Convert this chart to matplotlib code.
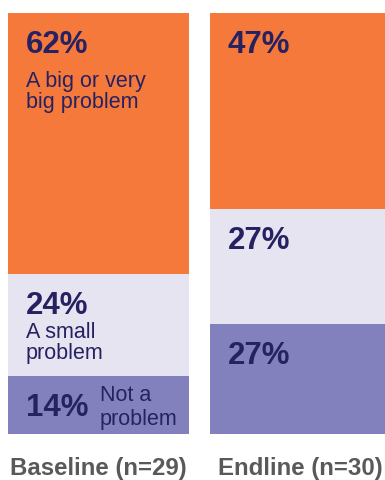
import matplotlib
matplotlib.use("Agg")
import matplotlib.pyplot as plt

plt.rcParams['font.family'] = ['Liberation Sans', 'DejaVu Sans']

categories = ["Baseline (n=29)", "Endline (n=30)"]
# bar shares as drawn (percent of each bar)
not_problem = [13.8, 26.1]
small_problem = [24.2, 27.3]
big_problem = [62.0, 46.6]
# labels as printed on the bars
not_problem_labels = ["14%", "27%"]
small_problem_labels = ["24%", "27%"]
big_problem_labels = ["62%", "47%"]
segment_labels = ["Not a\nproblem", "A small\nproblem", "A big or very\nbig problem"]

colors = ["#8381BD", "#E7E4F2", "#F4793B"]
text_color = "#262262"
label_color = "#58595B"

W, H = 385, 480
fig = plt.figure(figsize=(W / 100, H / 100), dpi=100)
ax_bottom, ax_top = 434, 13
ax = fig.add_axes([0, (H - ax_bottom) / H, 1, (ax_bottom - ax_top) / H])

unit = 202.0
bar_w = 181 / unit
x0 = -0.448 - 8 / unit
ax.set_xlim(x0, x0 + W / unit)
ax.set_ylim(0, 100)

px = 0.72  # points per pixel at dpi 100
series = [not_problem, small_problem, big_problem]
series_labels = [not_problem_labels, small_problem_labels, big_problem_labels]
# (x offset px, last-line baseline offset px below segment top, linespacing)
sub_layout = [(92, 49, 1.17), (18, 85, 1.03), (18, 95, 1.0)]
xs = list(range(len(categories)))
for i in xs:
    total = sum(s[i] for s in series)
    bottom = 0.0
    for k, s in enumerate(series):
        h = s[i] / total * 100
        ax.bar(i, h, width=bar_w, bottom=bottom, color=colors[k], linewidth=0)
        top = bottom + h
        left = i - bar_w / 2
        ax.annotate(series_labels[k][i], xy=(left, top), xytext=(18 * px, -40 * px),
                    textcoords="offset points", va="baseline", ha="left",
                    fontsize=22.5, fontweight="bold", color=text_color)
        if i == 0:
            dx, dy, ls = sub_layout[k]
            ax.annotate(segment_labels[k], xy=(left, top), xytext=(dx * px, -dy * px),
                        textcoords="offset points", va="baseline", ha="left",
                        fontsize=15.5, color=text_color, linespacing=ls)
        bottom = top

ax.set_xticks(xs)
ax.set_xticklabels(categories, fontsize=17.3, fontweight="bold", color=label_color)
ax.tick_params(axis="x", length=0, pad=16.5)
ax.set_yticks([])
for sp in ax.spines.values():
    sp.set_visible(False)

fig.savefig("out.png", dpi=100)
